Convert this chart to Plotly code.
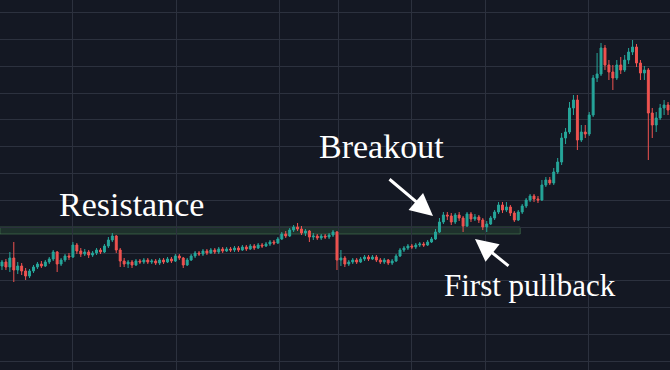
import plotly.graph_objects as go

# ---- data (price units; one candle per period) ----
opens = [104,108,103,112,100,104,99,94,99,103,106,104,108,111,118,106,110,114,113,125,
         119,116,118,115,117,120,118,124,130,134,120,109,106,108,105,109,108,110,108,109,
         107,110,108,111,109,114,112,105,110,114,117,116,119,117,120,118,121,119,121,120,
         122,120,123,121,124,122,125,124,126,128,127,131,136,134,140,143,141,137,139,133,
         134,132,134,133,135,138,110,112,106,108,110,108,111,113,111,113,110,108,110,107,
         109,114,120,122,124,123,125,126,125,128,131,138,148,155,154,148,155,152,144,156,
         151,153,150,143,146,152,158,165,160,163,157,150,158,164,170,174,171,170,185,190,
         187,198,208,232,238,262,270,230,238,236,255,292,296,322,305,298,292,305,300,310,
         318,323,307,297,300,257,245,252,262,265]
highs = [110,111,118,128,108,107,102,101,105,108,109,110,113,120,119,112,116,117,128,127,
         122,121,120,119,122,122,126,133,137,135,122,112,110,110,111,111,112,112,111,111,
         112,112,113,113,116,116,113,112,116,119,119,121,121,122,122,123,123,123,123,124,
         124,125,125,126,126,127,127,128,130,130,133,138,139,142,145,147,144,141,140,137,
         136,136,136,137,140,139,120,114,110,112,112,113,115,115,115,115,112,112,111,111,
         116,122,124,126,126,127,128,128,130,133,141,152,158,158,157,157,158,154,158,158,
         156,155,152,149,154,160,168,168,168,165,159,160,166,172,176,176,174,190,193,193,
         202,212,237,242,268,275,275,245,245,258,295,317,327,325,310,305,310,313,315,322,
         330,326,310,304,302,262,258,266,270,268]
lows = [100,100,98,88,96,95,90,92,97,101,102,103,106,109,98,104,108,110,112,116,
        113,114,112,113,115,116,117,122,128,117,103,103,102,102,104,106,106,106,106,105,
        105,106,107,107,108,110,102,104,109,112,114,114,115,116,116,116,117,118,118,118,
        118,119,119,120,120,121,122,123,124,125,126,130,132,133,138,139,135,134,128,130,
        130,130,131,131,133,100,104,103,104,106,106,107,109,109,110,108,106,106,105,105,
        108,113,118,120,121,121,123,123,124,127,130,137,146,150,145,146,149,138,143,148,
        149,147,140,138,145,150,156,157,158,154,148,149,156,162,168,168,167,169,183,185,
        185,196,205,226,236,255,220,228,232,234,253,288,294,300,290,280,290,296,298,306,
        315,303,290,290,210,232,238,250,255,255]
closes = [108,103,112,100,104,99,94,99,103,106,104,108,111,118,106,110,114,113,125,119,
          116,118,115,117,120,118,124,130,134,120,109,106,108,105,109,108,110,108,109,107,
          110,108,111,109,114,112,105,110,114,117,116,119,117,120,118,121,119,121,120,122,
          120,123,121,124,122,125,124,126,128,127,131,136,134,140,143,141,137,139,133,134,
          132,134,133,135,138,110,112,106,108,110,108,111,113,111,113,110,108,110,107,109,
          114,120,122,124,123,125,126,125,128,131,138,148,155,154,148,155,152,144,156,151,
          153,150,143,146,152,158,165,160,163,157,150,158,164,170,174,171,170,185,190,187,
          198,208,232,238,262,270,230,238,236,255,292,296,322,305,298,292,305,300,310,318,
          323,307,297,300,257,245,252,262,265,260]
periods = list(range(len(closes)))

# resistance zone
resistance_low = 136
resistance_high = 143
resistance_end = 131

# grid
time_grid = [18, 44.2, 70.3, 85.3, 104, 122.6, 148.7]
price_tick0 = 9
price_step = 26.8

labels = ["Resistance", "Breakout", "First pullback"]

BG = "#141823"
GRID = "#2c313e"
UP = "#26a69a"
DOWN = "#ef5350"

fig = go.Figure()
fig.add_trace(go.Candlestick(
    x=periods, open=opens, high=highs, low=lows, close=closes,
    increasing=dict(line=dict(color=UP, width=1), fillcolor=UP),
    decreasing=dict(line=dict(color=DOWN, width=1), fillcolor=DOWN),
    whiskerwidth=0, showlegend=False, hoverinfo="skip",
))

fig.add_shape(type="rect", xref="x", yref="y",
              x0=-0.5, x1=resistance_end + 0.5, y0=resistance_low, y1=resistance_high,
              fillcolor="rgba(60,125,70,0.25)",
              line=dict(color="rgba(80,140,90,0.5)", width=1), layer="below")

W, H = 670, 370
font = dict(family="Liberation Serif, Times New Roman, serif", color="#ffffff")

def px(x, y):
    return x / W, 1 - y / H

ann = []
for text, (cx, cy), size in zip(labels, [(131, 204), (381, 146), (530, 285)], [34, 34, 31]):
    fx, fy = px(cx, cy)
    ann.append(dict(text=text, x=fx, y=fy, xref="paper", yref="paper",
                    xanchor="center", yanchor="middle", showarrow=False,
                    font=dict(size=size, **font)))

for (hx, hy), (tx, ty) in [((433, 216), (388, 178)), ((475, 239), (510, 267))]:
    fx, fy = px(hx, hy)
    ann.append(dict(text="", x=fx, y=fy, xref="paper", yref="paper",
                    ax=tx - hx, ay=ty - hy, axref="pixel", ayref="pixel",
                    showarrow=True, arrowhead=2, arrowsize=1.5, arrowwidth=3,
                    arrowcolor="#ffffff", standoff=0))

fig.update_layout(
    width=W, height=H, margin=dict(l=0, r=0, t=0, b=0),
    paper_bgcolor=BG, plot_bgcolor=BG,
    annotations=ann,
    xaxis=dict(range=[-0.5, len(closes) - 0.5], tickmode="array", tickvals=time_grid,
               showticklabels=False, showgrid=True, gridcolor=GRID, gridwidth=1,
               zeroline=False, rangeslider=dict(visible=False), fixedrange=True),
    yaxis=dict(range=[0, 370], tick0=price_tick0, dtick=price_step, tickmode="linear",
               showticklabels=False, showgrid=True, gridcolor=GRID, gridwidth=1,
               zeroline=False, fixedrange=True),
)

fig.write_html("out.html", config={"displayModeBar": False})
